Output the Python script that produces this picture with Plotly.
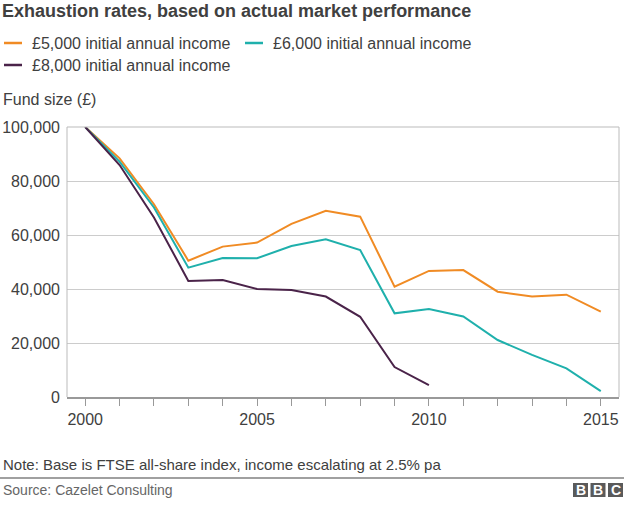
import plotly.graph_objects as go

years = list(range(2000, 2016))
income_5000 = [100000, 88400, 71400, 50500, 55700, 57200, 64100, 69000, 66800,
               40900, 46700, 47000, 39000, 37200, 37900, 31600]
income_6000 = [100000, 87200, 70200, 47900, 51500, 51400, 55900, 58400, 54400,
               31000, 32600, 29800, 21100, 15600, 10600, 2200]
years_8000 = list(range(2000, 2011))
income_8000 = [100000, 85900, 66500, 43000, 43300, 40000, 39600, 37200, 29700,
               11100, 4400]

series_names = ["£5,000 initial annual income", "£6,000 initial annual income",
                "£8,000 initial annual income"]
colors = ["#F08B24", "#1FB0AC", "#4A2349"]

x_tick_vals = years
x_tick_text = [str(y) if y % 5 == 0 else "" for y in years]
y_tick_vals = [0, 20000, 40000, 60000, 80000, 100000]

title_text = "Exhaustion rates, based on actual market performance"
y_title = "Fund size (£)"
note_text = "Note: Base is FTSE all-share index, income escalating at 2.5% pa"
source_text = "Source: Cazelet Consulting"

FONT = "Liberation Sans, Arial, Helvetica, sans-serif"
W, H = 624, 505
L, R, T, B = 67, 5, 127, 108
PW, PH = W - L - R, H - T - B


def px(x):
    return (x - L) / PW


def py(y):
    return (H - B - y) / PH


fig = go.Figure()
fig.add_trace(go.Scatter(x=years, y=income_5000, mode="lines", name=series_names[0],
                         line=dict(color=colors[0], width=2), showlegend=False))
fig.add_trace(go.Scatter(x=years, y=income_6000, mode="lines", name=series_names[1],
                         line=dict(color=colors[1], width=2), showlegend=False))
fig.add_trace(go.Scatter(x=years_8000, y=income_8000, mode="lines", name=series_names[2],
                         line=dict(color=colors[2], width=2), showlegend=False))

fig.update_layout(
    width=W, height=H,
    margin=dict(l=L, r=R, t=T, b=B, autoexpand=False),
    paper_bgcolor="white", plot_bgcolor="white",
    font=dict(family=FONT, color="#404040"),
    title=dict(text="<b>" + title_text + "</b>", xref="container", yref="container",
               x=0.0, y=1 - 11 / H, xanchor="left", yanchor="middle",
               pad=dict(l=2),
               font=dict(size=18, color="#404040", family=FONT)),
    showlegend=False,
    xaxis=dict(range=[1999.47, 2015.53], tickvals=x_tick_vals, ticktext=x_tick_text,
               ticks="outside", ticklen=7, tickcolor="#999999", tickwidth=1,
               showgrid=False, zeroline=False, automargin=False,
               showline=True, linecolor="#999999", linewidth=2, mirror=False,
               tickfont=dict(size=16, color="#404040")),
    yaxis=dict(range=[0, 100000], tickvals=y_tick_vals, tickformat=",d",
               showgrid=True, gridcolor="#cccccc", gridwidth=1, zeroline=False,
               showline=False, ticks="", ticklabelstandoff=6, automargin=False,
               tickfont=dict(size=16, color="#404040")),
)

# plot frame: left, right, top borders
for (x0, x1, y0, y1) in [(0, 0, 0, 1), (1, 1, 0, 1), (0, 1, 1, 1)]:
    fig.add_shape(type="line", xref="paper", yref="paper", x0=x0, x1=x1, y0=y0, y1=y1,
                  line=dict(color="#bbbbbb", width=1))

# manual legend
legend_items = [(4, 43, 0), (245, 43, 1), (4, 65, 2)]
for lx, ly, idx in legend_items:
    fig.add_shape(type="line", xref="paper", yref="paper",
                  x0=px(lx), x1=px(lx + 18), y0=py(ly), y1=py(ly),
                  line=dict(color=colors[idx], width=2.5))
    fig.add_annotation(text=series_names[idx], xref="paper", yref="paper",
                       x=px(lx + 26), y=py(ly), xanchor="left", yanchor="middle",
                       showarrow=False, font=dict(size=16, color="#404040", family=FONT))

# y-axis title
fig.add_annotation(text=y_title, xref="paper", yref="paper", x=px(1), y=py(100),
                   xanchor="left", yanchor="middle", showarrow=False,
                   font=dict(size=16, color="#404040", family=FONT))
# note
fig.add_annotation(text=note_text, xref="paper", yref="paper", x=px(1), y=py(464),
                   xanchor="left", yanchor="middle", showarrow=False,
                   font=dict(size=15, color="#404040", family=FONT))
# separator line
fig.add_shape(type="line", xref="paper", yref="paper", x0=px(0), x1=px(W),
              y0=py(478), y1=py(478), line=dict(color="#808080", width=1.5))
# source
fig.add_annotation(text=source_text, xref="paper", yref="paper", x=px(1), y=py(490),
                   xanchor="left", yanchor="middle", showarrow=False,
                   font=dict(size=14, color="#666666", family=FONT))
# BBC blocks
for i, letter in enumerate(["B", "B", "C"]):
    x0 = 573 + i * 17.5
    fig.add_shape(type="rect", xref="paper", yref="paper",
                  x0=px(x0), x1=px(x0 + 15), y0=py(497), y1=py(483),
                  fillcolor="#5a5a5a", line=dict(width=0))
    fig.add_annotation(text="<b>" + letter + "</b>", xref="paper", yref="paper",
                       x=px(x0 + 7.5), y=py(490), xanchor="center", yanchor="middle",
                       showarrow=False,
                       font=dict(size=14, color="white", family=FONT))

fig.write_html(
    "out.html",
    config={"displayModeBar": False},
    post_script="document.body.style.margin='0';document.body.style.overflow='hidden';",
)
